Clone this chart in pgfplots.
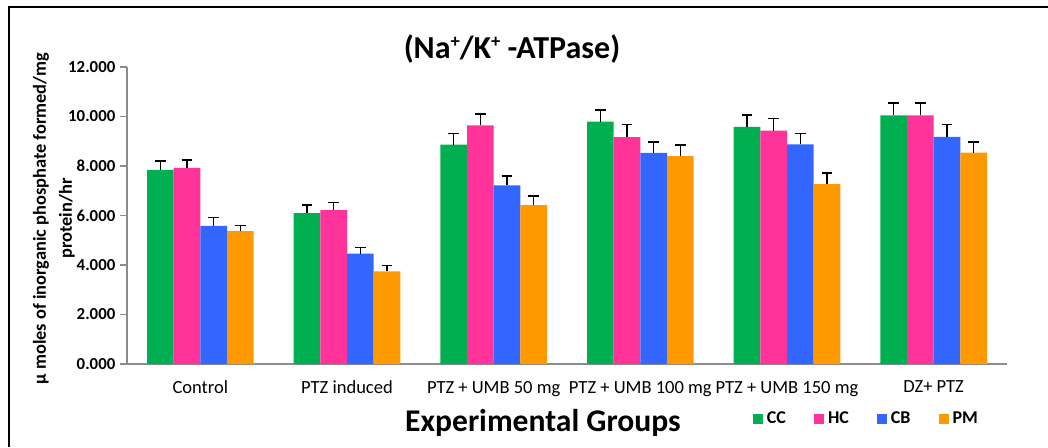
\documentclass[border=0pt]{standalone}
\usepackage{fontspec}
\setmainfont{Carlito}
\usepackage{pgfplots}
\pgfplotsset{compat=1.18}
\usepackage{pgfplotstable}
\definecolor{ccc}{HTML}{00B050}
\definecolor{hcc}{HTML}{FF3399}
\definecolor{cbc}{HTML}{3366FF}
\definecolor{pmc}{HTML}{FF9900}
\definecolor{axgray}{HTML}{8C8C8C}
\newcommand{\sps}{\raisebox{0.75ex}{\fontsize{14}{14}\selectfont +}}

\pgfplotstableread{
x cc cce hc hce cb cbe pm pme
0 7.84 0.36 7.92 0.32 5.58 0.33 5.37 0.22
1 6.10 0.32 6.22 0.31 4.46 0.25 3.74 0.24
2 8.86 0.46 9.64 0.47 7.22 0.38 6.42 0.37
3 9.79 0.47 9.17 0.50 8.53 0.44 8.40 0.44
4 9.58 0.49 9.43 0.49 8.87 0.45 7.27 0.45
5 10.05 0.50 10.05 0.50 9.18 0.49 8.54 0.43
}\data

\begin{document}
\begin{tikzpicture}
\path[use as bounding box] (0,0) rectangle (786pt,335.25pt);
\draw[line width=1.5pt] (6.75pt,0) -- (6.75pt,330pt) -- (786pt,330pt);
\begin{axis}[
  at={(95.25pt,62.25pt)}, anchor=south west,
  scale only axis, width=660pt, height=222.75pt,
  xmin=-0.5, xmax=5.5, ymin=0, ymax=12,
  axis x line=bottom, axis y line=left,
  axis line style={-, draw=axgray, line width=1pt},
  ybar=0pt, bar width=20pt,
  xtick={0,1,2,3,4,5},
  xticklabels={Control, PTZ induced, PTZ + UMB 50 mg, PTZ + UMB 100 mg, PTZ + UMB 150 mg, DZ+ PTZ},
  x tick style={draw=none},
  xticklabel style={font=\fontsize{13.9}{16}\selectfont, yshift=-4pt},
  ytick={0,2,4,6,8,10,12},
  y tick style={draw=axgray, line width=0.8pt},
  tick align=outside, major tick length=5.25pt,
  yticklabel style={font=\fontsize{12.6}{15}\selectfont\bfseries, /pgf/number format/.cd, fixed, fixed zerofill, precision=3, 1000 sep={}, assume math mode=true},
  ylabel={µ moles of inorganic phosphate formed/mg\\protein/hr},
  every axis y label/.style={at={(axis description cs:-0.083,0.49)}, rotate=90, anchor=center, align=center, font=\fontsize{13.8}{19.5}\selectfont\bfseries},
  legend columns=4,
  legend style={at={(rel axis cs:0.711,-0.185)}, anchor=west, draw=none, fill=none, inner sep=0pt, font=\fontsize{13.5}{16}\selectfont\bfseries, /tikz/every even column/.append style={column sep=18pt}, nodes={inner xsep=3pt, inner ysep=0pt}},
  legend image code/.code={\fill[#1] (0pt,-3.75pt) rectangle (7.5pt,3.75pt);},
  error bars/y dir=plus, error bars/y explicit,
  error bars/error bar style={black, line width=1.1pt},
  error bars/error mark options={black, line width=1.1pt, mark size=4.1pt, rotate=90},
  clip=false,
]
\addplot[fill=ccc, draw=none] table[x=x, y=cc, y error=cce] {\data};
\addplot[fill=hcc, draw=none] table[x=x, y=hc, y error=hce] {\data};
\addplot[fill=cbc, draw=none] table[x=x, y=cb, y error=cbe] {\data};
\addplot[fill=pmc, draw=none] table[x=x, y=pm, y error=pme] {\data};
\legend{CC, HC, CB, PM}
\end{axis}
\node[anchor=base, font=\fontsize{24}{28}\selectfont\bfseries] at (384pt,291pt) {(Na\sps/K\sps\ -ATPase)};
\node[anchor=base, font=\fontsize{23.7}{28}\selectfont\bfseries] at (407.25pt,12pt) {Experimental Groups};
\end{tikzpicture}
\end{document}
